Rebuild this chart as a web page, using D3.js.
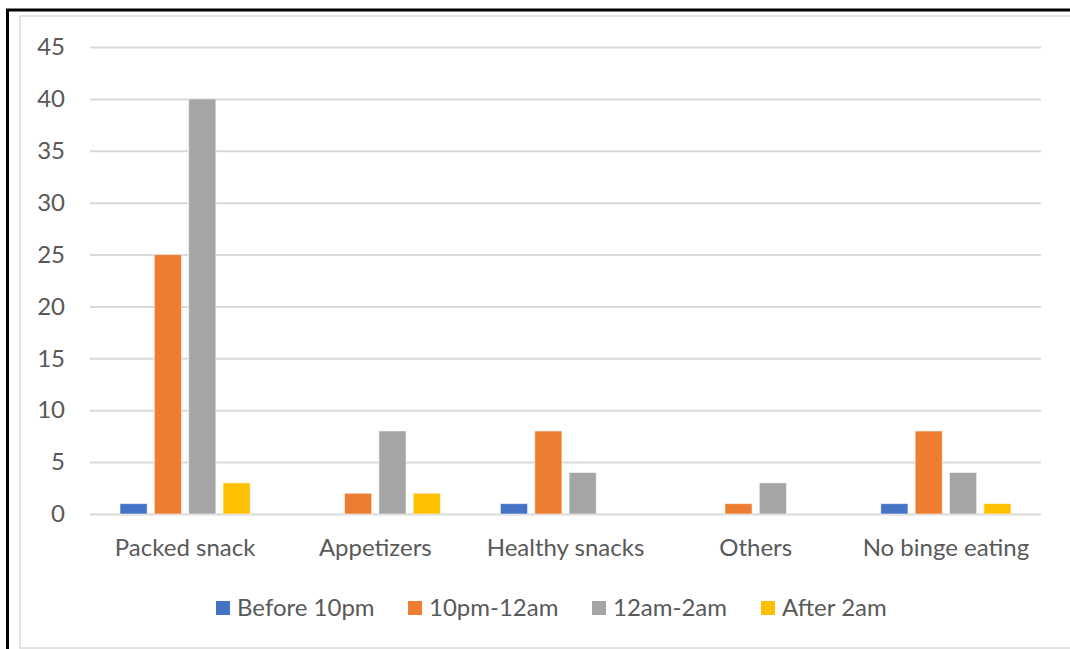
<!DOCTYPE html>
<html>
<head>
<meta charset="utf-8">
<script src="https://cdn.jsdelivr.net/npm/d3@7"></script>
<style>
  html, body { margin: 0; padding: 0; background: #fff; }
  svg { display: block; }
  text { font-family: Lato, "Open Sans", sans-serif; fill: #595959; }
</style>
</head>
<body>
<svg id="chart" width="1070" height="649"></svg>
<script>
// Snacking habits by time of night
const categories = ["Packed snack", "Appetizers", "Healthy snacks", "Others", "No binge eating"];
const seriesNames = ["Before 10pm", "10pm-12am", "12am-2am", "After 2am"];
const seriesColors = ["#4472C4", "#ED7D31", "#A5A5A5", "#FFC000"];
const before10pm = [1, 0, 1, 0, 1];
const pm10to12am = [25, 2, 8, 1, 8];
const am12to2am = [40, 8, 4, 3, 4];
const after2am = [3, 2, 0, 0, 1];
const yTicks = [0, 5, 10, 15, 20, 25, 30, 35, 40, 45];

const seriesValues = [before10pm, pm10to12am, am12to2am, after2am];
const fontSize = 24;

const svg = d3.select("#chart");

// frame: dark outer border, light inner border
svg.append("rect")
  .attr("x", 7.5).attr("y", 10).attr("width", 1080).attr("height", 660)
  .attr("fill", "none").attr("stroke", "#000").attr("stroke-width", 3);
svg.append("rect")
  .attr("x", 20).attr("y", 16).attr("width", 1070).attr("height", 632)
  .attr("fill", "#fff").attr("stroke", "#D9D9D9").attr("stroke-width", 1.5);

const plot = { left: 90, right: 1041, top: 47, bottom: 514 };

const y = d3.scaleLinear().domain([0, 45]).range([plot.bottom, plot.top]);
const x0 = d3.scaleBand().domain(categories).range([plot.left, plot.right]);
const groupInset = 30;
const x1 = d3.scaleBand().domain(seriesNames)
  .range([groupInset, x0.bandwidth() - groupInset])
  .paddingInner(0.21);

// value axis with gridlines
const yAxis = d3.axisLeft(y).tickValues(yTicks)
  .tickSize(-(plot.right - plot.left)).tickPadding(25).tickFormat(d3.format("d"));
const gy = svg.append("g").attr("transform", `translate(${plot.left},0)`).call(yAxis);
gy.select(".domain").remove();
gy.selectAll(".tick line").attr("stroke", "#D9D9D9").attr("stroke-width", 2);
gy.selectAll(".tick text").attr("font-size", fontSize).attr("fill", "#595959")
  .style("font-family", "Lato, sans-serif");

// bars
const rows = [];
categories.forEach((c, i) => {
  seriesNames.forEach((s, j) => {
    rows.push({ cat: c, series: s, value: seriesValues[j][i], color: seriesColors[j] });
  });
});

svg.append("g").selectAll("rect")
  .data(rows.filter(d => d.value > 0))
  .join("rect")
  .attr("x", d => x0(d.cat) + x1(d.series))
  .attr("y", d => y(d.value))
  .attr("width", x1.bandwidth())
  .attr("height", d => y(0) - y(d.value))
  .attr("fill", d => d.color)
  .attr("stroke", "#fff").attr("stroke-opacity", 0.55).attr("stroke-width", 1);

// category axis
const xAxis = d3.axisBottom(x0).tickSize(0).tickPadding(25);
const gx = svg.append("g").attr("transform", `translate(0,${plot.bottom})`).call(xAxis);
gx.select(".domain").remove();
gx.selectAll(".tick text").attr("font-size", fontSize).attr("fill", "#595959")
  .style("font-family", "Lato, sans-serif");

// legend
const legend = svg.append("g").attr("transform", "translate(0,616)");
const legendX = [216, 408, 592, 761];
seriesNames.forEach((s, j) => {
  const g = legend.append("g").attr("transform", `translate(${legendX[j]},0)`);
  g.append("rect").attr("x", 0).attr("y", -15).attr("width", 14).attr("height", 14)
    .attr("fill", seriesColors[j]);
  g.append("text").attr("x", 21).attr("y", 0)
    .attr("font-size", fontSize).text(s);
});
</script>
</body>
</html>
